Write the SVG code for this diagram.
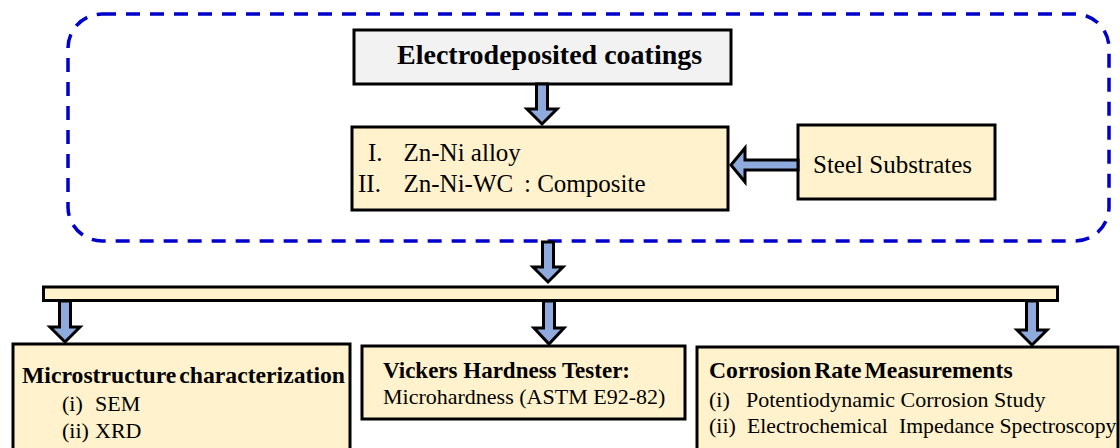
<svg xmlns="http://www.w3.org/2000/svg" width="1120" height="448" viewBox="0 0 1120 448">
<style>
.box{fill:#fff2cc;stroke:#000;stroke-width:3}
.grey{fill:#f2f2f2;stroke:#000;stroke-width:3}
.arr{fill:#8faadc;stroke:#000;stroke-width:3;stroke-linejoin:miter}
text{font-family:'Liberation Serif','Times New Roman',Times,serif;fill:#000;font-weight:normal}
text.b{font-weight:bold}
</style>
<rect x="68" y="14" width="1041" height="227" rx="34" ry="34" fill="none" stroke="#0000cc" stroke-width="3.5" stroke-dasharray="14 10"/>
<g id="electrodeposited">
<rect class="grey" x="354" y="30" width="377" height="54"/>
<text class="b" x="397" y="64" font-size="28">Electrodeposited coatings</text>
</g>
<g id="coatings">
<rect class="box" x="352" y="127" width="376" height="83"/>
<text x="368" y="161" font-size="25">I.</text>
<text x="403.5" y="161" font-size="25">Zn-Ni alloy</text>
<text x="358" y="192" font-size="25">II.</text>
<text x="403.5" y="192" font-size="25">Zn-Ni-WC</text>
<text x="524" y="192" font-size="25">: Composite</text>
</g>
<g id="steel">
<rect class="box" x="798" y="125" width="197" height="74"/>
<text x="813" y="173" font-size="25">Steel Substrates</text>
</g>
<g id="bar">
<rect class="box" x="43.5" y="287" width="1014" height="13.5"/>
</g>
<g id="micro">
<rect class="box" x="13" y="344" width="337" height="120"/>
<text class="b" x="22" y="383" font-size="23.7" word-spacing="-3">Microstructure characterization</text>
<text x="62" y="411" font-size="22">(i)</text>
<text x="95" y="411" font-size="22">SEM</text>
<text x="62" y="438" font-size="22">(ii)</text>
<text x="95" y="438" font-size="22">XRD</text>
</g>
<g id="vickers">
<rect class="box" x="362" y="346" width="323" height="73"/>
<text class="b" x="383" y="378" font-size="23">Vickers Hardness Tester:</text>
<text x="383" y="404" font-size="22">Microhardness (ASTM E92-82)</text>
</g>
<g id="corrosion">
<rect class="box" x="697" y="347" width="421" height="120"/>
<text class="b" x="709" y="378" font-size="23.7" word-spacing="-3">Corrosion Rate Measurements</text>
<text x="709" y="407" font-size="22">(i)</text>
<text x="746" y="407" font-size="22">Potentiodynamic Corrosion Study</text>
<text x="709" y="433" font-size="22">(ii)</text>
<text x="747" y="433" font-size="21.7">Electrochemical</text>
<text x="899" y="433" font-size="21.7">Impedance Spectroscopy</text>
</g>
<g id="connectors">
<polygon class="arr" points="536.5,84 547.5,84 547.5,109 557,109 542,124 527,109 536.5,109"/>
<polygon class="arr" points="798,160 745,160 745,148 731,165 745,182 745,170 798,170"/>
<polygon class="arr" points="542.5,242 553.5,242 553.5,267 563,267 548,282 533,267 542.5,267"/>
<polygon class="arr" points="59.5,301 70.5,301 70.5,327 80,327 65,342 50,327 59.5,327"/>
<polygon class="arr" points="543.5,301 554.5,301 554.5,328 564,328 549,344 534,328 543.5,328"/>
<polygon class="arr" points="1026.5,301 1037.5,301 1037.5,330 1047,330 1032,345 1017,330 1026.5,330"/>
</g>
</svg>
